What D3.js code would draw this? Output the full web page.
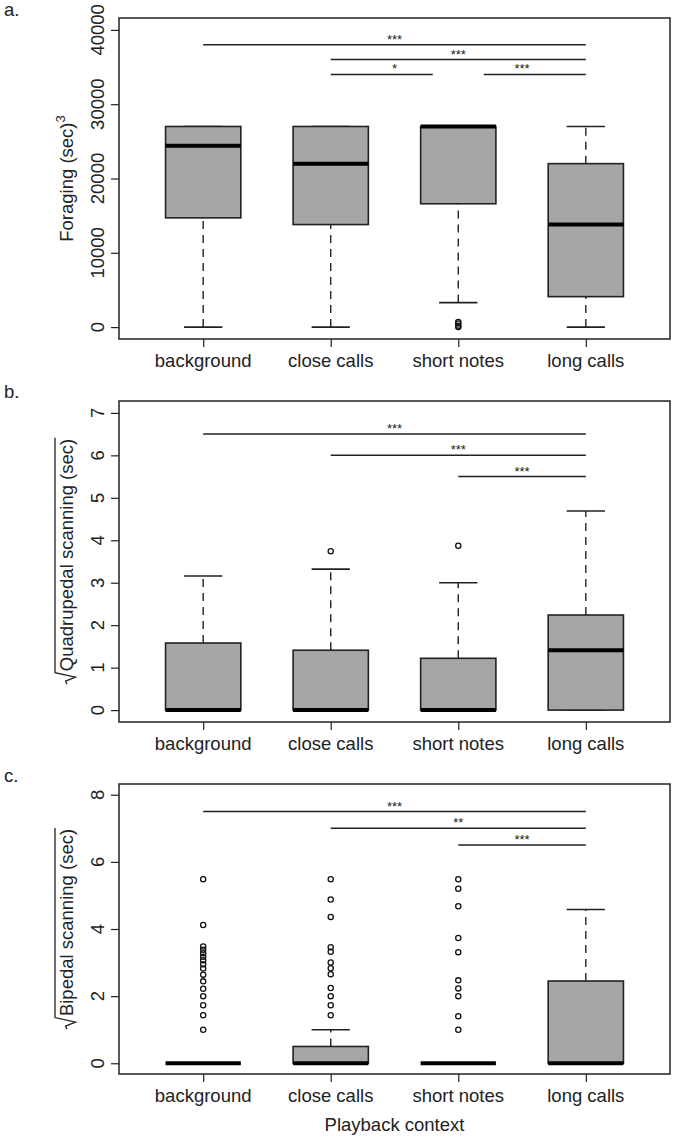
<!DOCTYPE html>
<html>
<head>
<meta charset="utf-8">
<script src="https://cdn.jsdelivr.net/npm/d3@7"></script>
<style>
  body { margin: 0; background: #fff; }
  svg { display: block; font-family: "Liberation Sans", Arial, Helvetica, sans-serif; }
</style>
</head>
<body>
<div id="chart"></div>
<script>
var svgWidth = 675;
var svgHeight = 1140;

var categories = ["background", "close calls", "short notes", "long calls"];

// each row: lower whisker, Q1, median, Q3, upper whisker
var foragingStats = [
  [0, 14700, 24400, 27000, 27000],
  [0, 13800, 22000, 27000, 27000],
  [3300, 16600, 27000, 27000, 27000],
  [0, 4100, 13800, 22000, 27000]
];
var foragingOutliers = [[], [], [0, 200, 500, 700], []];
var foragingTicks = [0, 10000, 20000, 30000, 40000];
var foragingSig = [
  { x0: 1, x1: 4, mid: 2.5, y: 38000, label: "***" },
  { x0: 2, x1: 4, mid: 3, y: 36000, label: "***" },
  { x0: 2, x1: 2.8, mid: 2.5, y: 34000, label: "*" },
  { x0: 3.2, x1: 4, mid: 3.5, y: 34000, label: "***" }
];

var quadStats = [
  [0, 0, 0, 1.58, 3.16],
  [0, 0, 0, 1.41, 3.32],
  [0, 0, 0, 1.22, 3.0],
  [0, 0, 1.41, 2.24, 4.69]
];
var quadOutliers = [[], [3.74], [3.87], []];
var quadTicks = [0, 1, 2, 3, 4, 5, 6, 7];
var quadSig = [
  { x0: 1, x1: 4, mid: 2.5, y: 6.5, label: "***" },
  { x0: 2, x1: 4, mid: 3, y: 6.0, label: "***" },
  { x0: 3, x1: 4, mid: 3.5, y: 5.5, label: "***" }
];

var bipStats = [
  [0, 0, 0, 0, 0],
  [0, 0, 0, 0.5, 1.0],
  [0, 0, 0, 0, 0],
  [0, 0, 0, 2.45, 4.58]
];
var bipOutliers = [
  [1, 1.43, 1.73, 2, 2.22, 2.44, 2.64, 2.82, 2.95, 3.07, 3.17, 3.28, 3.38, 3.48, 4.12, 5.48],
  [1.43, 1.73, 2, 2.24, 2.65, 2.83, 3.0, 3.32, 3.46, 4.36, 4.88, 5.48],
  [1, 1.4, 2, 2.23, 2.47, 3.31, 3.73, 4.68, 5.2, 5.48],
  []
];
var bipTicks = [0, 2, 4, 6, 8];
var bipSig = [
  { x0: 1, x1: 4, mid: 2.5, y: 7.5, label: "***" },
  { x0: 2, x1: 4, mid: 3, y: 7.0, label: "**" },
  { x0: 3, x1: 4, mid: 3.5, y: 6.5, label: "***" }
];

var plotLeft = 119;
var plotRight = 670;
var ink = "#222";
var boxFill = "#a6a6a6";
var boxHalf = 0.295;
var capHalf = 0.15;
var fontSize = 18.5;

var svg = d3.select("#chart")
  .append("svg")
  .attr("width", svgWidth)
  .attr("height", svgHeight);

// R style x range: 0.5..4.5 padded by 4%
var xScale = d3.scaleLinear()
  .domain([0.34, 4.66])
  .range([plotLeft, plotRight]);

function drawPanel(p) {
  var span = p.ymax - p.ymin;
  var yScale = d3.scaleLinear()
    .domain([p.ymin - span * 0.04, p.ymax + span * 0.04])
    .range([p.bottom, p.top]);

  var g = svg.append("g");

  // y axis ticks
  var yAxis = g.append("g")
    .attr("transform", `translate(${plotLeft},0)`)
    .call(d3.axisLeft(yScale).tickValues(p.ticks).tickFormat("").tickSize(8).tickSizeOuter(0));
  yAxis.select(".domain").remove();
  yAxis.selectAll("line").attr("stroke", ink).attr("stroke-width", 1.2);

  // tick labels parallel to the axis (R las = 0): one rotated layer
  // inside it, x = -screenY and y = screenX
  var rot = svg.append("g").attr("transform", "rotate(-90)");
  rot.selectAll(null)
    .data(p.ticks)
    .enter()
    .append("text")
    .attr("x", d => -yScale(d))
    .attr("y", plotLeft - 15)
    .attr("text-anchor", "middle")
    .attr("font-size", fontSize)
    .attr("fill", "#222")
    .text(d => d);

  // x axis
  var xAxis = g.append("g")
    .attr("transform", `translate(0,${p.bottom})`)
    .call(d3.axisBottom(xScale).tickValues([1, 2, 3, 4]).tickFormat("").tickSize(8).tickSizeOuter(0));
  xAxis.select(".domain").remove();
  xAxis.selectAll("line").attr("stroke", ink).attr("stroke-width", 1.2);

  g.selectAll(".xlab")
    .data(categories)
    .enter()
    .append("text")
    .attr("x", (d, i) => xScale(i + 1))
    .attr("y", p.bottom + 28)
    .attr("text-anchor", "middle")
    .attr("font-size", fontSize)
    .attr("fill", "#222")
    .text(d => d);

  // whiskers
  var groups = g.selectAll(".grp")
    .data(p.stats)
    .enter()
    .append("g");

  groups.append("line")
    .attr("x1", (d, i) => xScale(i + 1))
    .attr("x2", (d, i) => xScale(i + 1))
    .attr("y1", d => yScale(d[0]))
    .attr("y2", d => yScale(d[1]))
    .attr("stroke", ink).attr("stroke-width", 1.4)
    .attr("stroke-dasharray", "8,6");
  groups.append("line")
    .attr("x1", (d, i) => xScale(i + 1))
    .attr("x2", (d, i) => xScale(i + 1))
    .attr("y1", d => yScale(d[3]))
    .attr("y2", d => yScale(d[4]))
    .attr("stroke", ink).attr("stroke-width", 1.4)
    .attr("stroke-dasharray", "8,6");

  [0, 4].forEach(function(k) {
    groups.append("line")
      .attr("x1", (d, i) => xScale(i + 1 - capHalf))
      .attr("x2", (d, i) => xScale(i + 1 + capHalf))
      .attr("y1", d => yScale(d[k]))
      .attr("y2", d => yScale(d[k]))
      .attr("stroke", ink).attr("stroke-width", 1.6);
  });

  // boxes
  groups.append("rect")
    .attr("x", (d, i) => xScale(i + 1 - boxHalf))
    .attr("width", xScale(1 + boxHalf) - xScale(1 - boxHalf))
    .attr("y", d => yScale(d[3]))
    .attr("height", d => yScale(d[1]) - yScale(d[3]))
    .attr("fill", boxFill)
    .attr("stroke", ink)
    .attr("stroke-width", 1.6);

  // medians
  groups.append("line")
    .attr("x1", (d, i) => xScale(i + 1 - boxHalf))
    .attr("x2", (d, i) => xScale(i + 1 + boxHalf))
    .attr("y1", d => yScale(d[2]))
    .attr("y2", d => yScale(d[2]))
    .attr("stroke", "#000")
    .attr("stroke-width", 4);

  // outliers
  p.outliers.forEach(function(vals, i) {
    g.selectAll(null)
      .data(vals)
      .enter()
      .append("circle")
      .attr("cx", xScale(i + 1))
      .attr("cy", d => yScale(d))
      .attr("r", 2.6)
      .attr("fill", "none")
      .attr("stroke", "#111")
      .attr("stroke-width", 1.3);
  });

  // significance bars
  g.selectAll(".sig")
    .data(p.sig)
    .enter()
    .append("line")
    .attr("x1", d => xScale(d.x0))
    .attr("x2", d => xScale(d.x1))
    .attr("y1", d => yScale(d.y))
    .attr("y2", d => yScale(d.y))
    .attr("stroke", ink)
    .attr("stroke-width", 1.5);

  g.selectAll(".star")
    .data(p.sig)
    .enter()
    .append("text")
    .attr("x", d => xScale(d.mid))
    .attr("y", d => yScale(d.y) - 1)
    .attr("text-anchor", "middle")
    .attr("font-size", 13)
    .attr("fill", "#222")
    .text(d => d.label);

  // frame
  g.append("rect")
    .attr("x", plotLeft)
    .attr("y", p.top)
    .attr("width", plotRight - plotLeft)
    .attr("height", p.bottom - p.top)
    .attr("fill", "none")
    .attr("stroke", ink)
    .attr("stroke-width", 1.5);

  // panel letter
  svg.append("text")
    .attr("x", 4)
    .attr("y", p.letterY)
    .attr("font-size", fontSize)
    .attr("fill", "#222")
    .text(p.letter);

  // y title
  var cy = (p.top + p.bottom) / 2;
  var tg = svg.append("g")
    .attr("transform", `translate(73,${cy}) rotate(-90)`);
  var txt = tg.append("text")
    .attr("font-size", fontSize)
    .attr("fill", "#222")
    .text(p.title);
  if (p.sup) {
    txt.append("tspan")
      .attr("font-size", 13)
      .attr("dy", -8)
      .text(p.sup);
  }
  var w = txt.node().getComputedTextLength();
  var rw = p.sqrt ? 13 : 0;
  var x0 = -(w + rw) / 2 + rw;
  txt.attr("x", x0);
  if (p.sqrt) {
    tg.append("path")
      .attr("d", `M${x0 - 13},-6 L${x0 - 10},-7.5 L${x0 - 6},2.5 L${x0 - 1.5},-18 L${x0 + w + 1},-18`)
      .attr("fill", "none")
      .attr("stroke", "#222")
      .attr("stroke-width", 1.3);
  }
}

drawPanel({
  stats: foragingStats, outliers: foragingOutliers, ticks: foragingTicks, sig: foragingSig,
  ymin: 0, ymax: 40000, top: 18, bottom: 339,
  letter: "a.", letterY: 16, title: "Foraging (sec)", sup: "3", sqrt: false
});

drawPanel({
  stats: quadStats, outliers: quadOutliers, ticks: quadTicks, sig: quadSig,
  ymin: 0, ymax: 7, top: 401, bottom: 722,
  letter: "b.", letterY: 398, title: "Quadrupedal scanning (sec)", sqrt: true
});

drawPanel({
  stats: bipStats, outliers: bipOutliers, ticks: bipTicks, sig: bipSig,
  ymin: 0, ymax: 8, top: 784, bottom: 1074,
  letter: "c.", letterY: 782, title: "Bipedal scanning (sec)", sqrt: true
});

svg.append("text")
  .attr("x", (plotLeft + plotRight) / 2)
  .attr("y", 1131)
  .attr("text-anchor", "middle")
  .attr("font-size", fontSize)
  .attr("fill", "#222")
  .text("Playback context");
</script>
</body>
</html>
